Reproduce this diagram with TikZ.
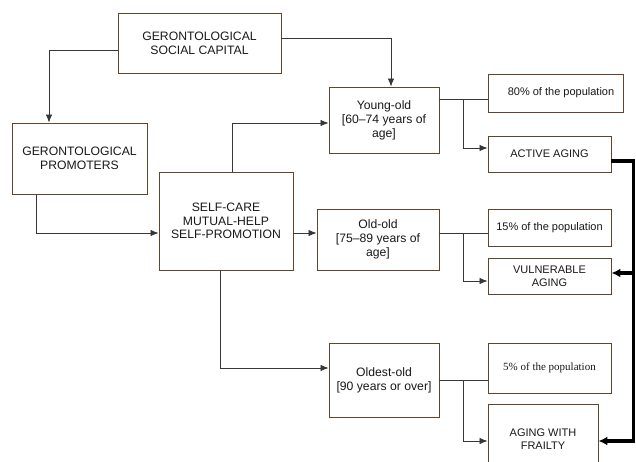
\documentclass[tikz,border=0pt]{standalone}
\usepackage{fontspec}
\setmainfont{Liberation Sans}
\newfontfamily\serifface{Liberation Serif}
\usetikzlibrary{arrows.meta}
\definecolor{boxbrown}{RGB}{94,70,46}
\definecolor{linegray}{RGB}{55,55,55}

\begin{document}
\begin{tikzpicture}[
        x=1pt, y=-1pt,
        box/.style={draw=boxbrown, line width=0.9pt, fill=white, align=center, inner sep=2pt, text=black!90, font=\fontsize{12.2}{14}\selectfont},
        small box/.style={box, font=\fontsize{11}{13}\selectfont},
        link/.style={draw=linegray, line width=0.8pt},
        arrow/.style={link, -{Latex[length=8pt,width=6.5pt]}},
        bold link/.style={draw=black, line width=3.2pt},
        bold arrow/.style={bold link, -{Latex[length=9pt,width=9pt]}}
      ]
      \useasboundingbox (0,0) rectangle (636,462);
      \clip (0,0) rectangle (636,462);

      \node[box, minimum width=163, minimum height=60] (capital) at (199.5,43) {GERONTOLOGICAL\\SOCIAL CAPITAL};
      \node[box, minimum width=135, minimum height=71] (promoters) at (79.5,158.5) {GERONTOLOGICAL\\PROMOTERS};
      \node[box, minimum width=134, minimum height=98, font=\fontsize{12.2}{13.5}\selectfont] (self) at (226,221) {SELF-CARE\\MUTUAL-HELP\\SELF-PROMOTION};
      \node[box, minimum width=110, minimum height=66] (young) at (384,120) {Young-old\\{[60--74 years of}\\age]};
      \node[box, minimum width=122, minimum height=61] (old) at (378,239.5) {Old-old\\{[75--89 years of}\\age]};
      \node[box, minimum width=110, minimum height=74] (oldest) at (384,380) {Oldest-old\\{[90 years or over]}};

      \node[small box, minimum width=135, minimum height=38] (share80) at (555.5,93) {\quad 80\% of the population};
      \node[small box, minimum width=123, minimum height=36] (active) at (549.5,154) {ACTIVE AGING};
      \node[small box, minimum width=123, minimum height=37] (share15) at (549.5,227.5) {15\% of the population};
      \node[small box, minimum width=123, minimum height=36] (vulnerable) at (549.5,276) {VULNERABLE\\AGING};
      \node[small box, minimum width=123, minimum height=50, font=\serifface\fontsize{11}{13}\selectfont] (share5) at (549.5,368) {5\% of the population};
      \node[small box, minimum width=110, minimum height=71] (frailty) at (543,439.5) {AGING WITH\\FRAILTY};

      \draw[arrow] ([yshift=-7pt]capital.west) -| ([xshift=-30.5pt]promoters.north);
      \draw[arrow] ([yshift=5pt]capital.east) -| ([xshift=7pt]young.north);
      \draw[arrow] ([xshift=-43.5pt]promoters.south) |- ([yshift=-12pt]self.west);
      \draw[arrow] ([xshift=6pt]self.north) |- ([yshift=-3pt]young.west);
      \draw[arrow] ([yshift=-12pt]self.east) -- ([yshift=6.5pt]old.west);
      \draw[arrow] ([xshift=-6pt]self.south) |- ([yshift=12pt]oldest.west);

      \draw[link] ([yshift=21pt]young.east) -- coordinate[midway] (split1) ([yshift=-6pt]share80.west);
      \draw[arrow] (split1) |- ([yshift=6pt]active.west);
      \draw[link] ([yshift=6.5pt]old.east) -- coordinate[midway] (split2) ([yshift=-5.5pt]share15.west);
      \draw[arrow] (split2) |- ([yshift=-5pt]vulnerable.west);
      \draw[link] (oldest.east) -- coordinate[midway] (split3) ([yshift=-12pt]share5.west);
      \draw[arrow] (split3) |- ([yshift=-1.5pt]frailty.west);

      \draw[bold arrow] ([yshift=-7pt]active.east) -- ++(22,0) coordinate (rail) |- ([yshift=-1.5pt]frailty.east);
      \coordinate (vulnerable-in) at ([yshift=3pt]vulnerable.east);
      \draw[bold arrow] (vulnerable-in -| rail) -- (vulnerable-in);

\end{tikzpicture}
\end{document}
